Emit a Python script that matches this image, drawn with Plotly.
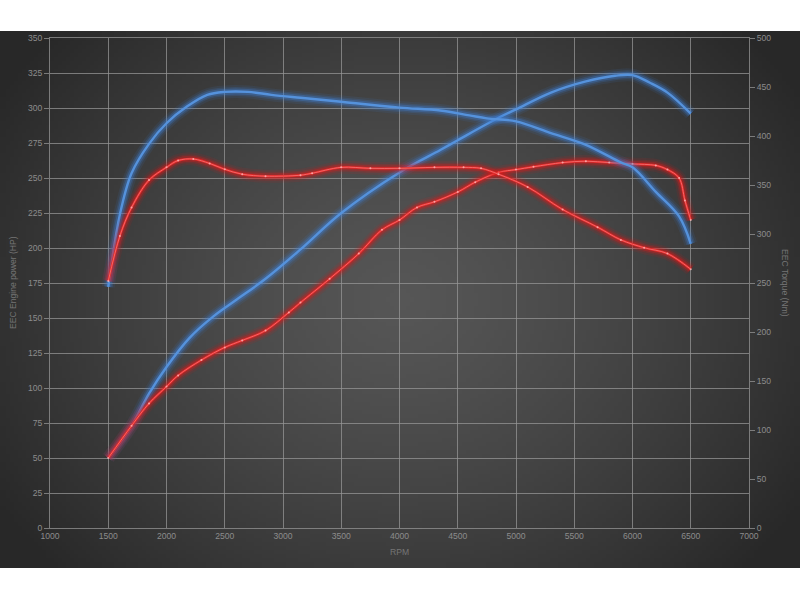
import base64, struct, zlib, math
import plotly.graph_objects as go

# ---------------- data ----------------
blue_torque_rpm = [1500, 1600, 1700, 1850, 2000, 2175, 2350, 2500, 2700, 2900, 3150, 3500, 4000, 4350, 4600, 4750, 5000, 5300, 5600, 5900, 6000, 6200, 6400, 6500]
blue_torque_nm  = [246, 320, 362, 392, 413, 430, 442, 445, 445, 442, 439, 435, 429, 426, 421, 418, 415, 403, 391, 373, 368, 343, 318, 290]

blue_power_rpm = [1500, 1700, 1850, 2000, 2200, 2400, 2600, 2850, 3150, 3500, 4000, 4350, 4500, 4850, 5000, 5300, 5600, 5850, 6000, 6150, 6300, 6500]
blue_power_hp  = [50, 73, 96, 115, 136, 151, 163, 178, 199, 225, 254, 270, 277, 293, 299, 311, 319, 323, 323.5, 318, 311, 296]

red_torque_rpm = [1500, 1600, 1700, 1850, 2000, 2100, 2230, 2370, 2500, 2650, 2850, 3150, 3250, 3500, 3750, 4000, 4300, 4550, 4700, 4850, 5100, 5400, 5700, 5900, 6100, 6300, 6500]
red_torque_nm  = [252, 298, 327, 355, 368, 375, 376.5, 372, 366, 361, 359, 360, 362, 368, 367, 367, 368, 368, 367, 361, 348, 325, 307, 294, 286, 280, 264]

red_power_rpm = [1500, 1700, 1850, 2000, 2100, 2300, 2500, 2650, 2850, 3050, 3150, 3400, 3650, 3850, 4000, 4150, 4300, 4500, 4650, 4850, 5000, 5150, 5400, 5600, 5800, 6000, 6200, 6300, 6400, 6450, 6500]
red_power_hp  = [50, 73, 89, 101, 109, 120, 129, 134, 141, 154, 161, 178, 196, 213, 220, 229, 233, 240, 247, 254, 256, 258, 261, 262, 261, 260, 259, 256, 250, 234, 220]

x_ticks = list(range(1000, 7001, 500))
hp_ticks = list(range(0, 351, 25))
nm_ticks = list(range(0, 501, 50))

# ---------------- background gradient image ----------------
def make_png(w, h):
    rows = []
    for j in range(h):
        py = 31 + (j + 0.5) * 537 / h
        row = bytearray([0])
        for i in range(w):
            px = (i + 0.5) * 800 / w
            d = math.sqrt(((px - 400) / 470) ** 2 + ((py - 300) / 400) ** 2)
            d = min(d, 1.0)
            t = d ** 1.3
            c = int(round(86 + (40 - 86) * t))
            row += bytes([c, c, c])
        rows.append(bytes(row))
    raw = b"".join(rows)
    def chunk(tag, data):
        return struct.pack(">I", len(data)) + tag + data + struct.pack(">I", zlib.crc32(tag + data) & 0xffffffff)
    png = b"\x89PNG\r\n\x1a\n" + chunk(b"IHDR", struct.pack(">IIBBBBB", w, h, 8, 2, 0, 0, 0)) \
        + chunk(b"IDAT", zlib.compress(raw, 9)) + chunk(b"IEND", b"")
    return "data:image/png;base64," + base64.b64encode(png).decode()

bg = make_png(200, 134)

fig = go.Figure()

def glow(x, y, axis, core, glowc, center=None):
    for w, op in [(13, 0.10), (9, 0.18), (6, 0.32)]:
        fig.add_trace(go.Scatter(x=x, y=y, yaxis=axis, mode="lines",
                                 line=dict(color=glowc, width=w, shape="spline", smoothing=1.0),
                                 opacity=op, hoverinfo="skip", showlegend=False))
    fig.add_trace(go.Scatter(x=x, y=y, yaxis=axis, mode="lines",
                             line=dict(color=core, width=2.4, shape="spline", smoothing=1.0),
                             hoverinfo="skip", showlegend=False))
    if center:
        fig.add_trace(go.Scatter(x=x, y=y, yaxis=axis, mode="lines+markers",
                                 line=dict(color=center, width=0.8, shape="spline", smoothing=1.0),
                                 marker=dict(color="#ffc0c0", size=2),
                                 opacity=0.8, hoverinfo="skip", showlegend=False))

glow(blue_torque_rpm, blue_torque_nm, "y2", "#5592dc", "#3d7fd8")
glow(blue_power_rpm, blue_power_hp, "y", "#5592dc", "#3d7fd8")
glow(red_torque_rpm, red_torque_nm, "y2", "#e02828", "#e01818", center="#ff8a8a")
glow(red_power_rpm, red_power_hp, "y", "#e02828", "#e01818", center="#ff8a8a")

grid = "rgba(150,150,150,0.75)"
tickfont = dict(family="Liberation Sans", size=8.6, color="#8c8c8c")

fig.update_layout(
    width=800, height=600,
    margin=dict(l=50, r=51, t=38, b=72),
    paper_bgcolor="white",
    plot_bgcolor="rgba(0,0,0,0)",
    showlegend=False,
    hovermode=False,
    xaxis=dict(range=[1000, 7000], tickvals=x_ticks, ticktext=[str(v) for v in x_ticks],
               showgrid=True, gridcolor=grid, gridwidth=1, zeroline=False,
               showline=True, linecolor=grid, linewidth=1, mirror=True,
               ticks="", tickfont=tickfont),
    yaxis=dict(range=[0, 350], tickvals=hp_ticks, ticktext=[str(v) for v in hp_ticks],
               showgrid=True, gridcolor=grid, gridwidth=1, zeroline=False,
               showline=True, linecolor=grid, linewidth=1,
               ticks="outside", ticklen=5, tickcolor=grid, tickfont=tickfont),
    yaxis2=dict(range=[0, 500], tickvals=nm_ticks, ticktext=[str(v) for v in nm_ticks],
                overlaying="y", side="right", showgrid=False, zeroline=False,
                showline=True, linecolor=grid, linewidth=1,
                ticks="outside", ticklen=5, tickcolor=grid, tickfont=tickfont),
    images=[dict(source=bg, xref="paper", yref="paper", x=-50/699, y=(528-31)/490,
                 sizex=800/699, sizey=537/490, xanchor="left", yanchor="top",
                 sizing="stretch", layer="below")],
)

titlefont = dict(family="Liberation Sans", size=8.6, color="#757575")
fig.add_annotation(text="RPM", xref="paper", yref="paper", x=0.5, y=-(552-528)/490,
                   showarrow=False, font=titlefont, xanchor="center", yanchor="middle")
fig.add_annotation(text="EEC Engine power (HP)", xref="paper", yref="paper", x=(13-50)/699, y=(528-283)/490,
                   showarrow=False, font=titlefont, textangle=-90, xanchor="center", yanchor="middle")
fig.add_annotation(text="EEC Torque (Nm)", xref="paper", yref="paper", x=(785-50)/699, y=(528-283)/490,
                   showarrow=False, font=titlefont, textangle=90, xanchor="center", yanchor="middle")

fig.write_html("out.html", config={"displayModeBar": False, "staticPlot": True},
               post_script="document.body.style.margin='0';document.body.style.overflow='hidden';")
